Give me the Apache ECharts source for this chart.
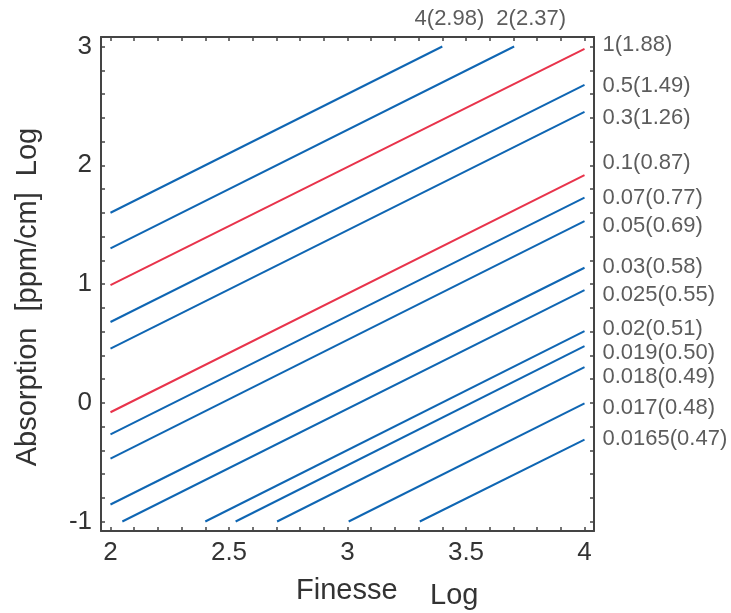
<!DOCTYPE html>
<html>
<head>
<meta charset="utf-8">
<script src="https://cdn.jsdelivr.net/npm/echarts@6/dist/echarts.min.js"></script>
<style>html,body{margin:0;padding:0;background:#fff;}#chart{width:731px;height:613px;}</style>
</head>
<body>
<div id="chart"></div>
<script>
// ---- data ----
var lineNames = ['4', '2', '1', '0.5', '0.3', '0.1', '0.07', '0.05', '0.03', '0.025', '0.02', '0.019', '0.018', '0.017', '0.0165'];
var startX = [2, 2, 2, 2, 2, 2, 2, 2, 2, 2.05, 2.40, 2.528, 2.703, 3.005, 3.305];
var startY = [1.60, 1.30, 0.99, 0.68, 0.455, -0.08, -0.267, -0.47, -0.857, -1.0, -1.0, -1.0, -1.0, -1.0, -1.0];
var endX = [3.40, 3.703, 4, 4, 4, 4, 4, 4, 4, 4, 4, 4, 4, 4, 4];
var endY = [3.0, 3.0, 2.98, 2.676, 2.45, 1.917, 1.727, 1.53, 1.137, 0.949, 0.603, 0.477, 0.30, -0.006, -0.31];
var redLines = ['1', '0.1'];

var rightLabels = ['1(1.88)', '0.5(1.49)', '0.3(1.26)', '0.1(0.87)', '0.07(0.77)', '0.05(0.69)', '0.03(0.58)', '0.025(0.55)', '0.02(0.51)', '0.019(0.50)', '0.018(0.49)', '0.017(0.48)', '0.0165(0.47)'];
var rightLabelY = [3.013, 2.670, 2.400, 2.021, 1.727, 1.488, 1.141, 0.907, 0.619, 0.416, 0.219, -0.047, -0.308];
var topLabels = ['4(2.98)', '2(2.37)'];
var topLabelX = [3.43, 3.775];
var topLabelY = 3.232;

var xLabelValues = [2, 2.5, 3, 3.5, 4];
var xTickValues = [2, 2.1, 2.2, 2.3, 2.4, 2.5, 2.6, 2.7, 2.8, 2.9, 3, 3.1, 3.2, 3.3, 3.4, 3.5, 3.6, 3.7, 3.8, 3.9, 4];
var yLabelValues = [-1, 0, 1, 2, 3];
var yTickValues = [-1, -0.8, -0.6, -0.4, -0.2, 0, 0.2, 0.4, 0.6, 0.8, 1, 1.2, 1.4, 1.6, 1.8, 2, 2.2, 2.4, 2.6, 2.8, 3];

var xMin = 1.96, xMax = 4.04, yMin = -1.08, yMax = 3.08;

// ---- chart ----
var BLUE = '#0f66b3', RED = '#e8334b', AXIS = '#444444', TEXT = '#333333';
var FONT = "'Liberation Sans', Arial, Helvetica, sans-serif";

var series = lineNames.map(function (n, i) {
  return {
    name: n, type: 'line', symbol: 'none', animation: false, silent: true,
    lineStyle: { width: 2, color: redLines.indexOf(n) >= 0 ? RED : BLUE },
    data: [[startX[i], startY[i]], [endX[i], endY[i]]]
  };
});

series.push({
  type: 'scatter', clip: false, animation: false, silent: true, symbolSize: 1,
  itemStyle: { color: 'rgba(0,0,0,0)' },
  label: { show: true, position: 'right', distance: 8, fontSize: 22, color: TEXT, fontFamily: FONT,
    formatter: function (p) { return p.data[2]; } },
  data: rightLabels.map(function (t, i) { return [xMax, rightLabelY[i], t]; })
});
series.push({
  type: 'scatter', clip: false, animation: false, silent: true, symbolSize: 1,
  itemStyle: { color: 'rgba(0,0,0,0)' },
  label: { show: true, position: 'inside', fontSize: 22, color: TEXT, fontFamily: FONT,
    formatter: function (p) { return p.data[2]; } },
  data: topLabels.map(function (t, i) { return [topLabelX[i], topLabelY, t]; })
});

function axisBase(pos, showLabels, ticks, labels, mn, mx) {
  return {
    type: 'value', position: pos, min: mn, max: mx,
    axisLine: { show: true, onZero: false, lineStyle: { color: AXIS, width: 2 } },
    axisTick: { show: true, inside: true, length: 4, customValues: ticks, lineStyle: { color: AXIS, width: 1.5 } },
    axisLabel: { show: showLabels, customValues: labels, fontSize: 26, color: TEXT, fontFamily: FONT, margin: 9 },
    splitLine: { show: false }
  };
}

var chart = echarts.init(document.getElementById('chart'), null, { renderer: 'canvas' });
chart.setOption({
  backgroundColor: '#ffffff',
  animation: false,
  grid: { left: 101, right: 137, top: 37, bottom: 82, containLabel: false, outerBoundsMode: 'none' },
  xAxis: [
    axisBase('bottom', true, xTickValues, xLabelValues, xMin, xMax),
    axisBase('top', false, xTickValues, xLabelValues, xMin, xMax)
  ],
  yAxis: [
    axisBase('left', true, yTickValues, yLabelValues, yMin, yMax),
    axisBase('right', false, yTickValues, yLabelValues, yMin, yMax)
  ],
  graphic: [
    { type: 'text', left: 296, top: 576, style: { text: 'Finesse', fontSize: 29, fill: TEXT, fontFamily: FONT } },
    { type: 'text', left: 430, top: 581, style: { text: 'Log', fontSize: 29, fill: TEXT, fontFamily: FONT } },
    { type: 'text', x: 28, y: 297, rotation: Math.PI / 2,
      style: { text: 'Absorption  [ppm/cm]  Log', fontSize: 29, fill: TEXT, fontFamily: FONT, align: 'center', verticalAlign: 'middle' } }
  ],
  series: series
});
</script>
</body>
</html>
